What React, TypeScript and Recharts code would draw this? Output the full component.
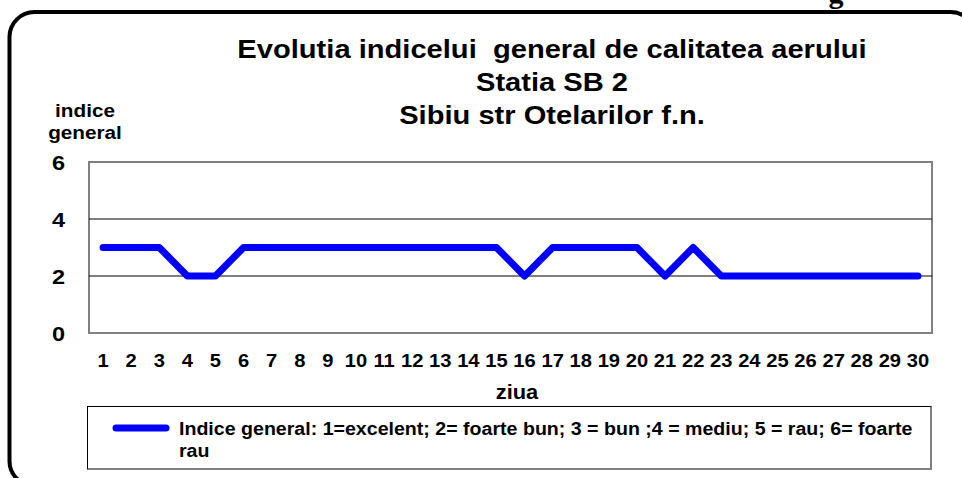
import React from 'react';
import {
  LineChart,
  Line,
  XAxis,
  YAxis,
  ReferenceLine,
  ReferenceArea,
  Legend
} from 'recharts';

// zilele lunii (axa X)
const days = [
  1, 2, 3, 4, 5, 6, 7, 8, 9, 10, 11, 12, 13, 14, 15,
  16, 17, 18, 19, 20, 21, 22, 23, 24, 25, 26, 27, 28, 29, 30
];

// indicele general pe zile
const indexValues = [
  3, 3, 3, 2, 2, 3, 3, 3, 3, 3, 3, 3, 3, 3, 3,
  2, 3, 3, 3, 3, 2, 3, 2, 2, 2, 2, 2, 2, 2, 2
];

const yTicks = [0, 2, 4, 6];
const gridValues = [2, 4];

const titleLines = [
  'Evolutia indicelui  general de calitatea aerului',
  'Statia SB 2',
  'Sibiu str Otelarilor f.n.'
];
const yLabelLines = ['indice', 'general'];
const xLabel = 'ziua';
const legendLines = [
  'Indice general: 1=excelent; 2= foarte bun; 3 = bun ;4 = mediu; 5 = rau; 6= foarte',
  'rau'
];

const chartData = days.map((day, i) => ({ day, value: indexValues[i] }));

const FONT = '"Liberation Sans", Arial, sans-serif';
const SX = 1.12; // the picture is a bit wider than tall

const Stretch: React.FC<{
  x: number;
  y: number;
  size: number;
  anchor?: 'start' | 'middle' | 'end';
  children: React.ReactNode;
}> = ({ x, y, size, anchor = 'middle', children }) => (
  <text
    transform={`translate(${x} ${y}) scale(${SX} 1)`}
    textAnchor={anchor}
    fontFamily={FONT}
    fontWeight="bold"
    fontSize={size}
    fill="#000"
    style={{ whiteSpace: 'pre' }}
  >
    {children}
  </text>
);

const XTick = (props: any) => {
  const { x, y, payload } = props;
  return (
    <Stretch x={x} y={y + 34} size={18}>
      {payload.value}
    </Stretch>
  );
};

const YTick = (props: any) => {
  const { x, y, payload } = props;
  return (
    <Stretch x={x - 24} y={y + 8} size={21} anchor="end">
      {payload.value}
    </Stretch>
  );
};

const LegendBox = () => (
  <div
    style={{
      boxSizing: 'border-box',
      width: 845,
      height: 64,
      borderTop: '1px solid #000',
      borderLeft: '1px solid #000',
      borderRight: '2px solid #808080',
      borderBottom: '2px solid #808080',
      background: '#fff'
    }}
  >
    <svg width={842} height={61} style={{ display: 'block' }}>
      <line
        x1={28}
        y1={21}
        x2={78}
        y2={21}
        stroke="#0000FF"
        strokeWidth={7}
        strokeLinecap="round"
      />
      <Stretch x={91} y={28} size={17.5} anchor="start">
        {legendLines[0]}
      </Stretch>
      <Stretch x={91} y={50} size={17.5} anchor="start">
        {legendLines[1]}
      </Stretch>
    </svg>
  </div>
);

export default function App() {
  return (
    <div style={{ position: 'absolute', left: 0, top: 0, width: 962, height: 478, background: '#fff', overflow: 'hidden' }}>
      <svg width={962} height={478} style={{ position: 'absolute', left: 0, top: 0 }}>
        <rect x={9.5} y={12} width={966} height={474} rx={25} fill="none" stroke="#000" strokeWidth={4} />
        <text x={836} y={3} textAnchor="middle" fontFamily='"Liberation Serif", serif' fontWeight="bold" fontSize={30}>
          g
        </text>
        {titleLines.map((t, i) => (
          <Stretch key={t} x={552} y={58 + i * 33} size={26}>
            {t}
          </Stretch>
        ))}
        {yLabelLines.map((t, i) => (
          <Stretch key={t} x={85} y={117 + i * 22} size={18.5}>
            {t}
          </Stretch>
        ))}
        <Stretch x={517} y={399} size={19.5}>
          {xLabel}
        </Stretch>
      </svg>
      <div style={{ position: 'absolute', left: 0, top: 0 }}>
        <LineChart
          width={962}
          height={478}
          data={chartData}
          margin={{ top: 162, right: 30, bottom: 115, left: 0 }}
        >
          <XAxis
            dataKey="day"
            type="number"
            domain={[0.5, 30.5]}
            ticks={days}
            interval={0}
            axisLine={false}
            tickLine={false}
            tickSize={0}
            tickMargin={0}
            tick={<XTick />}
          />
          <YAxis
            type="number"
            domain={[0, 6]}
            ticks={yTicks}
            width={89}
            axisLine={false}
            tickLine={false}
            tickSize={0}
            tickMargin={0}
            tick={<YTick />}
          />
          {gridValues.map((v) => (
            <ReferenceLine key={v} y={v} stroke="#000" strokeWidth={1} />
          ))}
          <ReferenceArea
            x1={0.5}
            x2={30.5}
            y1={0}
            y2={6}
            fill="none"
            fillOpacity={0}
            stroke="#808080"
            strokeWidth={2}
            strokeOpacity={1}
          />
          <Line
            type="linear"
            dataKey="value"
            name={legendLines.join(' ')}
            stroke="#0000FF"
            strokeWidth={7}
            strokeLinecap="round"
            strokeLinejoin="round"
            dot={false}
            activeDot={false}
            isAnimationActive={false}
          />
          <Legend
            layout="horizontal"
            verticalAlign="middle"
            align="center"
            content={<LegendBox />}
            wrapperStyle={{ left: 87, top: 406, width: 845, height: 64 }}
          />
        </LineChart>
      </div>
    </div>
  );
}
